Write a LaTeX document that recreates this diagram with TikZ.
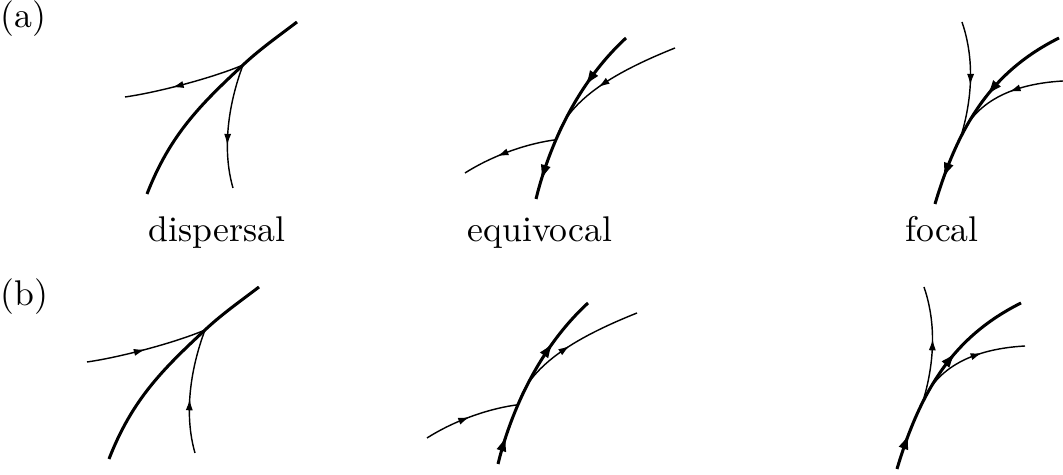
\documentclass[tikz,border=0pt]{standalone}
\usepackage{tikz}
\usetikzlibrary{arrows.meta,decorations.markings}

% the three pictures of one row, drawn in pixel units
\newcommand{\portraits}{%
    % Dispersal
    \draw[sep] (147,194) .. controls (170,135) and (200,105) .. (243,65) coordinate (dj)
        .. controls (260,49) and (280,35) .. (297,22);
    \draw[curve, flow=0.56] (dj) .. controls (215,77) and (160,92) .. (125,97);
    \draw[curve, flow=0.61] (dj) .. controls (228,105) and (222,150) .. (233,188);

    % Equivocal
    \draw[sep, flow=0.31, flow=0.87] (626,38) .. controls (575,85) and (548,150) .. (536,199)
        coordinate[pos=0.63] (ej);
    \draw[curve, flow=0.52] (675,48) .. controls (620,70) and (568,98) .. (ej);
    \draw[curve, flow=0.57] (ej) .. controls (530,143) and (495,154) .. (465,173);

    % Focal
    \draw[sep, flow=0.41, flow=0.85] (1059,38) .. controls (995,70) and (960,120) .. (935,204)
        coordinate[pos=0.7] (fj);
    \draw[curve, flow=0.5] (962,22) .. controls (975,60) and (972,100) .. (fj);
    \draw[curve, flow=0.4] (1063,81) .. controls (1010,84) and (975,103) .. (fj);
}

\begin{document}
\begin{tikzpicture}[x=0.28pt, y=-0.28pt, every node/.style={inner sep=0pt},
    curve/.style={line width=0.4pt},
    sep/.style={line width=0.85pt},
    flow/.style={postaction={decorate, decoration={markings,
        mark=at position #1 with {\pgftransformxshift{1.6pt}\arrow{Latex[length=2pt 3, width=1.2pt 2]}}}}}]

    \useasboundingbox (0,0) rectangle (1063,475);

    % Row (a): flow away from the curve
    \node[anchor=base west] (la) at (0,28) {(a)};
    \portraits
    \node[anchor=base] (disp) at (217,242) {dispersal};
    \node[anchor=base] (equi) at (540,242) {equivocal};
    \node[anchor=base] (foc) at (942,242) {focal};

    % Row (b): same pictures, flow reversed
    \node[anchor=base west] (lb) at (0,306) {(b)};
    \begin{scope}[shift={(-38,265)},
        flow/.style={postaction={decorate, decoration={markings,
            mark=at position #1 with {\pgftransformxshift{-1.6pt}\arrowreversed{Latex[length=2pt 3, width=1.2pt 2]}}}}}]
        \portraits
    \end{scope}
\end{tikzpicture}
\end{document}
